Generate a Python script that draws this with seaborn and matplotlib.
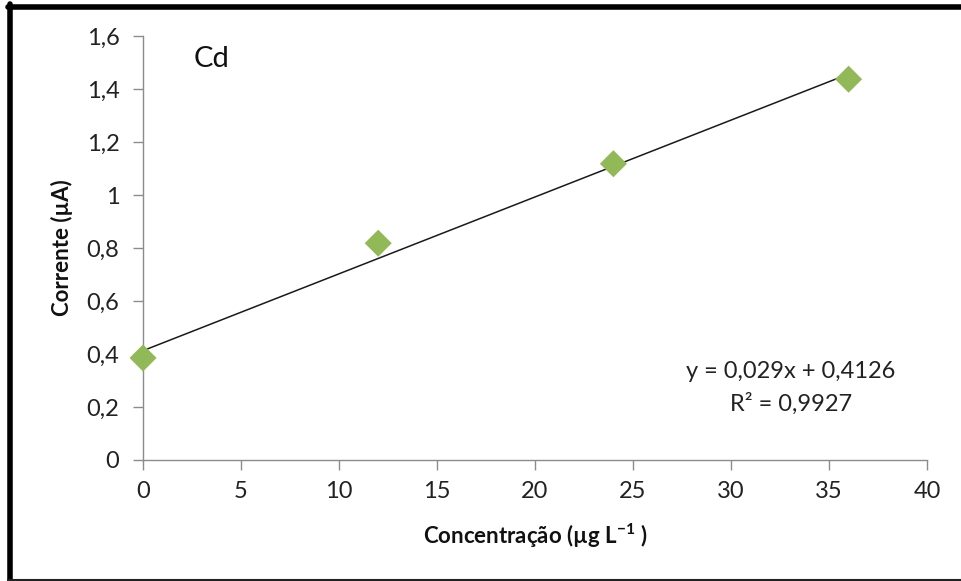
import matplotlib
matplotlib.use("Agg")
import matplotlib.pyplot as plt
from matplotlib.ticker import FuncFormatter
from matplotlib.lines import Line2D
import numpy as np
import pandas as pd
import seaborn as sns

# Calibration data for Cd
concentracao = [0, 12, 24, 36]
corrente = [0.385, 0.818, 1.118, 1.437]

# Linear fit reported on the chart
slope = 0.029
intercept = 0.4126
r2 = 0.9927

x_ticks = [0, 5, 10, 15, 20, 25, 30, 35, 40]
y_ticks = [0, 0.2, 0.4, 0.6, 0.8, 1.0, 1.2, 1.4, 1.6]

sns.set_theme(style="white")
plt.rcParams["font.family"] = ["Lato", "DejaVu Sans"]

fig = plt.figure(figsize=(9.62, 5.81), dpi=100)
ax = fig.add_axes([0.1487, 0.2083, 0.8149, 0.7297])

df = pd.DataFrame({"x": concentracao, "y": corrente})

# Trend line over the data range
xf = np.array([min(concentracao), max(concentracao)])
ax.plot(xf, slope * xf + intercept, color="#1a1a1a", lw=1.1, zorder=2)

sns.scatterplot(data=df, x="x", y="y", marker="D", s=190, color="#92B957",
                edgecolor="none", ax=ax, zorder=3, legend=False, clip_on=False)

ax.set_xlim(0, 40)
ax.set_ylim(0, 1.6)
ax.set_xticks(x_ticks)
ax.set_yticks(y_ticks)

def comma(v, pos):
    s = f"{v:.1f}".rstrip("0").rstrip(".")
    return s.replace(".", ",")

ax.yaxis.set_major_formatter(FuncFormatter(comma))
ax.xaxis.set_major_formatter(FuncFormatter(lambda v, p: f"{v:g}"))

for side in ["top", "right"]:
    ax.spines[side].set_visible(False)
for side in ["left", "bottom"]:
    ax.spines[side].set_color("#8c8c8c")
    ax.spines[side].set_linewidth(1.0)

ax.tick_params(axis="both", which="major", direction="out", length=7, width=1,
               color="#8c8c8c", labelsize=17, labelcolor="#222222",
               left=True, bottom=True)
ax.tick_params(axis="y", pad=10)
ax.tick_params(axis="x", pad=8)

ax.set_xlabel("Concentração (µg L$^{\\mathregular{-1}}$ )", fontsize=16,
              fontweight="bold", color="#111111", labelpad=14)
ax.set_ylabel("Corrente (µA)", fontsize=16, fontweight="bold",
              color="#111111", labelpad=10)

ax.text(0.065, 0.945, "Cd", transform=ax.transAxes, fontsize=21,
        color="#111111", va="center", ha="left")

ax.text(0.826, 0.208, f"y = {slope:.3f}x + {intercept:.4f}".replace(".", ","),
        transform=ax.transAxes, fontsize=17, ha="center", va="center",
        color="#222222")
ax.text(0.826, 0.133, f"R² = {r2:.4f}".replace(".", ","),
        transform=ax.transAxes, fontsize=17, ha="center", va="center",
        color="#222222")

# Frame around the chart
fig.add_artist(Line2D([0.0104, 0.0104], [0.0, 0.993], transform=fig.transFigure,
                      color="black", lw=4))
fig.add_artist(Line2D([0.0083, 1.0], [0.9885, 0.9885], transform=fig.transFigure,
                      color="black", lw=4))
fig.add_artist(Line2D([0.0083, 1.0], [0.0025, 0.0025], transform=fig.transFigure,
                      color="#222222", lw=1.5))

fig.savefig("out.png", dpi=100)
